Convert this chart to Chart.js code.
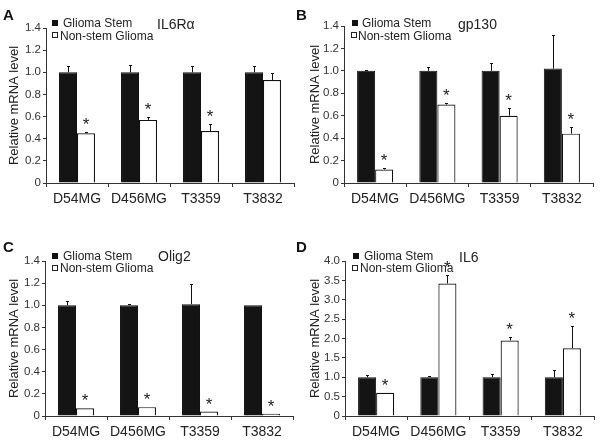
<!DOCTYPE html>
<html>
<head>
<meta charset="utf-8">
<script src="https://cdn.jsdelivr.net/npm/chart.js@4.4.0/dist/chart.umd.min.js"></script>
<style>
  html,body{margin:0;padding:0;background:#fff;}
  body{width:602px;height:446px;position:relative;overflow:hidden;font-family:"Liberation Sans",Arial,sans-serif;}
  .panel{position:absolute;width:301px;height:223px;}
  canvas{display:block;}
  .txt{position:absolute;white-space:nowrap;line-height:1;color:#222;}
  .letter{font-weight:bold;font-size:15px;color:#111;}
  .gene{font-size:14px;}
  .leg{font-size:12px;}
  .sq{position:absolute;box-sizing:border-box;}
  .sqb{width:6px;height:6px;background:#111;}
  .sqw{width:6px;height:6px;background:#fff;border:1px solid #222;}
</style>
</head>
<body>
<div class="panel" style="left:0;top:0"><canvas id="cA" width="301" height="223"></canvas></div>
<div class="panel" style="left:301px;top:0"><canvas id="cB" width="301" height="223"></canvas></div>
<div class="panel" style="left:0;top:223px"><canvas id="cC" width="301" height="223"></canvas></div>
<div class="panel" style="left:301px;top:223px"><canvas id="cD" width="301" height="223"></canvas></div>

<div class="txt letter" style="left:3px;top:7px">A</div>
<div class="txt letter" style="left:296px;top:7px">B</div>
<div class="txt letter" style="left:3px;top:239px">C</div>
<div class="txt letter" style="left:296px;top:239px">D</div>

<div class="txt gene" style="left:157px;top:17px">IL6Rα</div>
<div class="txt gene" style="left:458px;top:17px">gp130</div>
<div class="txt gene" style="left:158px;top:249px">Olig2</div>
<div class="txt gene" style="left:459px;top:250px">IL6</div>

<!-- legends -->
<div class="sq sqb" style="left:52px;top:20px"></div>
<div class="txt leg" style="left:63px;top:17px">Glioma Stem</div>
<div class="sq sqw" style="left:52px;top:32px"></div>
<div class="txt leg" style="left:60px;top:30px">Non-stem Glioma</div>

<div class="sq sqb" style="left:352px;top:20px"></div>
<div class="txt leg" style="left:362px;top:17px">Glioma Stem</div>
<div class="sq sqw" style="left:351px;top:32px"></div>
<div class="txt leg" style="left:358px;top:30px">Non-stem Glioma</div>

<div class="sq sqb" style="left:52px;top:253px"></div>
<div class="txt leg" style="left:63px;top:250px">Glioma Stem</div>
<div class="sq sqw" style="left:52px;top:265px"></div>
<div class="txt leg" style="left:60px;top:262px">Non-stem Glioma</div>

<div class="sq sqb" style="left:353px;top:253px"></div>
<div class="txt leg" style="left:364px;top:250px">Glioma Stem</div>
<div class="sq sqw" style="left:352px;top:265px"></div>
<div class="txt leg" style="left:360px;top:262px">Non-stem Glioma</div>

<script>
// ---- data ----
const categories = ['D54MG', 'D456MG', 'T3359', 'T3832'];
const seriesNames = ['Glioma Stem', 'Non-stem Glioma'];
const yTitle = 'Relative mRNA level';

// Panel A: IL6Rα
const il6raStem = [1.0, 1.0, 1.0, 1.0];
const il6raStemErr = [0.06, 0.07, 0.06, 0.06];
const il6raNonStem = [0.45, 0.57, 0.47, 0.93];
const il6raNonStemErr = [0.01, 0.03, 0.06, 0.06];
const il6raSig = [true, true, true, false];

// Panel B: gp130
const gp130Stem = [1.0, 1.0, 1.0, 1.02];
const gp130StemErr = [0.01, 0.03, 0.07, 0.30];
const gp130NonStem = [0.12, 0.70, 0.60, 0.44];
const gp130NonStemErr = [0.01, 0.01, 0.07, 0.06];
const gp130Sig = [true, true, true, true];

// Panel C: Olig2
const olig2Stem = [1.0, 1.0, 1.01, 1.0];
const olig2StemErr = [0.04, 0.01, 0.18, 0];
const olig2NonStem = [0.07, 0.08, 0.04, 0.02];
const olig2NonStemErr = [0, 0, 0, 0];
const olig2Sig = [true, true, true, true];

// Panel D: IL6
const il6Stem = [1.0, 1.0, 1.0, 1.0];
const il6StemErr = [0.05, 0.03, 0.08, 0.19];
const il6NonStem = [0.6, 3.42, 1.95, 1.75];
const il6NonStemErr = [0, 0.22, 0.10, 0.56];
const il6Sig = [true, true, true, true];

// y-axis tick settings
const yMaxSmall = 1.4, yStepSmall = 0.2;
const yMaxIL6 = 4.0, yStepIL6 = 0.5;

// ---- drawing ----
Chart.defaults.font.family = '"Liberation Sans", Arial, sans-serif';

const errPlugin = {
  id: 'errbars',
  afterDatasetsDraw(chart) {
    const ctx = chart.ctx;
    const ys = chart.scales.y;
    chart.data.datasets.forEach((ds, di) => {
      const meta = chart.getDatasetMeta(di);
      meta.data.forEach((bar, i) => {
        const v = ds.data[i];
        const e = ds.errors ? ds.errors[i] : 0;
        const pTop = ys.getPixelForValue(v + e);
        const pV = ys.getPixelForValue(v);
        const x = Math.round(bar.x) + 0.5;
        ctx.save();
        ctx.strokeStyle = '#111';
        ctx.lineWidth = 1;
        if (e > 0) {
          ctx.beginPath();
          ctx.moveTo(x, pV);
          ctx.lineTo(x, Math.round(pTop) + 0.5);
          ctx.moveTo(x - 1.5, Math.round(pTop) + 0.5);
          ctx.lineTo(x + 1.5, Math.round(pTop) + 0.5);
          ctx.stroke();
        }
        if (ds.sig && ds.sig[i]) {
          ctx.fillStyle = '#222';
          ctx.font = '17px "Liberation Sans", Arial, sans-serif';
          ctx.textAlign = 'center';
          ctx.textBaseline = 'alphabetic';
          ctx.fillText('*', bar.x, pTop - 2);
        }
        ctx.restore();
      });
    });
  }
};

function makeChart(id, stem, stemErr, non, nonErr, sig, yMax, yStep, pad, yW, xH) {
  return new Chart(document.getElementById(id), {
    type: 'bar',
    data: {
      labels: categories,
      datasets: [
        { label: seriesNames[0], data: stem, errors: stemErr,
          backgroundColor: '#141414', borderColor: '#111', borderWidth: 1 },
        { label: seriesNames[1], data: non, errors: nonErr, sig: sig,
          backgroundColor: '#ffffff', borderColor: '#111', borderWidth: 1.2 }
      ]
    },
    options: {
      responsive: false,
      animation: false,
      devicePixelRatio: 1,
      layout: { padding: pad },
      datasets: { bar: { categoryPercentage: 0.58, barPercentage: 1.0 } },
      plugins: { legend: { display: false }, tooltip: { enabled: false } },
      scales: {
        x: {
          grid: { display: true, drawOnChartArea: false, tickLength: 4, color: '#333', offset: true },
          border: { display: true, color: '#333', width: 1 },
          ticks: { color: '#222', font: { size: 14 }, padding: 4, maxRotation: 0 },
          afterFit(s) { s.height = xH; }
        },
        y: {
          min: 0, max: yMax,
          ticks: {
            stepSize: yStep, color: '#333', font: { size: 11.5 }, padding: 2,
            callback: (v) => (Math.abs(v) < 1e-9 ? '0' : Number(v).toFixed(1))
          },
          grid: { display: true, drawOnChartArea: false, tickLength: 3, color: '#333' },
          border: { display: true, color: '#333', width: 1 },
          title: { display: true, text: yTitle, color: '#222', font: { size: 13 }, padding: { top: 7, bottom: 0 } },
          afterFit(s) { s.width = yW; }
        }
      }
    },
    plugins: [errPlugin]
  });
}

makeChart('cA', il6raStem, il6raStemErr, il6raNonStem, il6raNonStemErr, il6raSig,
  yMaxSmall, yStepSmall, { left: 0, right: 7, top: 28, bottom: 0 }, 46, 40);
makeChart('cB', gp130Stem, gp130StemErr, gp130NonStem, gp130NonStemErr, gp130Sig,
  yMaxSmall, yStepSmall, { left: 0, right: 9, top: 26, bottom: 0 }, 43, 40);
makeChart('cC', olig2Stem, olig2StemErr, olig2NonStem, olig2NonStemErr, olig2Sig,
  yMaxSmall, yStepSmall, { left: 0, right: 8, top: 38, bottom: 0 }, 45, 30);
makeChart('cD', il6Stem, il6StemErr, il6NonStem, il6NonStemErr, il6Sig,
  yMaxIL6, yStepIL6, { left: 0, right: 8, top: 38, bottom: 0 }, 44, 30);
</script>
</body>
</html>
